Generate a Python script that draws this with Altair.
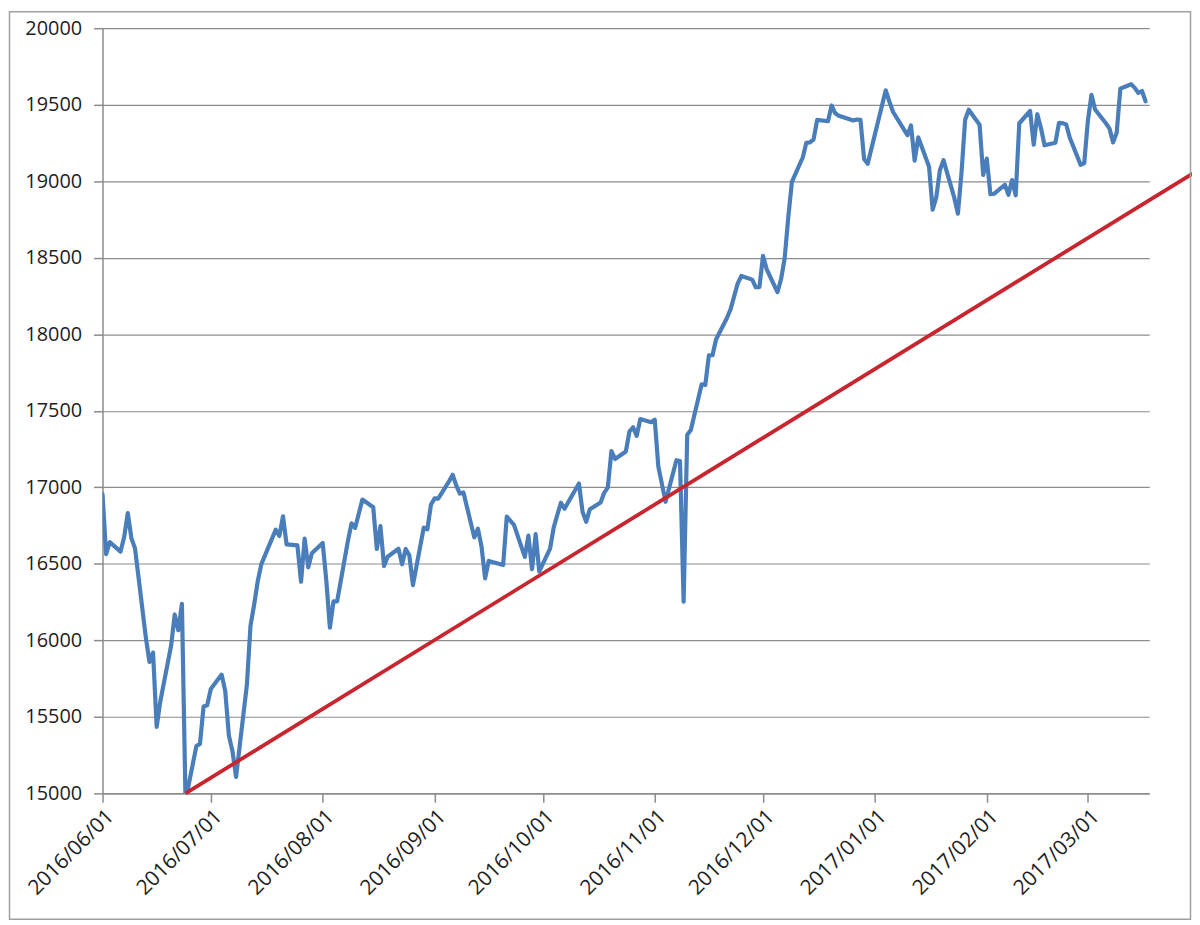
import altair as alt
import pandas as pd

# ---- Nikkei-style daily closes ----
dates = [
    "2016-06-01", "2016-06-02", "2016-06-03", "2016-06-06", "2016-06-07", "2016-06-08", "2016-06-09", "2016-06-10",
    "2016-06-13", "2016-06-14", "2016-06-15", "2016-06-16", "2016-06-17", "2016-06-20", "2016-06-21", "2016-06-22",
    "2016-06-23", "2016-06-24", "2016-06-27", "2016-06-28", "2016-06-29", "2016-06-30",
    "2016-07-01", "2016-07-04", "2016-07-05", "2016-07-06", "2016-07-07", "2016-07-08", "2016-07-11", "2016-07-12",
    "2016-07-13", "2016-07-14", "2016-07-15", "2016-07-19", "2016-07-20", "2016-07-21", "2016-07-22", "2016-07-25",
    "2016-07-26", "2016-07-27", "2016-07-28", "2016-07-29",
    "2016-08-01", "2016-08-02", "2016-08-03", "2016-08-04", "2016-08-05", "2016-08-08", "2016-08-09", "2016-08-10",
    "2016-08-12", "2016-08-15", "2016-08-16", "2016-08-17", "2016-08-18", "2016-08-19", "2016-08-22", "2016-08-23",
    "2016-08-24", "2016-08-25", "2016-08-26", "2016-08-29", "2016-08-30", "2016-08-31",
    "2016-09-01", "2016-09-02", "2016-09-05", "2016-09-06", "2016-09-07", "2016-09-08", "2016-09-09", "2016-09-12",
    "2016-09-13", "2016-09-14", "2016-09-15", "2016-09-16", "2016-09-20", "2016-09-21", "2016-09-23", "2016-09-26",
    "2016-09-27", "2016-09-28", "2016-09-29", "2016-09-30",
    "2016-10-03", "2016-10-04", "2016-10-05", "2016-10-06", "2016-10-07", "2016-10-11", "2016-10-12", "2016-10-13",
    "2016-10-14", "2016-10-17", "2016-10-18", "2016-10-19", "2016-10-20", "2016-10-21", "2016-10-24", "2016-10-25",
    "2016-10-26", "2016-10-27", "2016-10-28", "2016-10-31",
    "2016-11-01", "2016-11-02", "2016-11-04", "2016-11-07", "2016-11-08", "2016-11-09", "2016-11-10", "2016-11-11",
    "2016-11-14", "2016-11-15", "2016-11-16", "2016-11-17", "2016-11-18", "2016-11-21", "2016-11-22", "2016-11-24",
    "2016-11-25", "2016-11-28", "2016-11-29", "2016-11-30",
    "2016-12-01", "2016-12-02", "2016-12-05", "2016-12-06", "2016-12-07", "2016-12-08", "2016-12-09", "2016-12-12",
    "2016-12-13", "2016-12-14", "2016-12-15", "2016-12-16", "2016-12-19", "2016-12-20", "2016-12-21", "2016-12-22",
    "2016-12-26", "2016-12-27", "2016-12-28", "2016-12-29", "2016-12-30",
    "2017-01-04", "2017-01-05", "2017-01-06", "2017-01-10", "2017-01-11", "2017-01-12", "2017-01-13", "2017-01-16",
    "2017-01-17", "2017-01-18", "2017-01-19", "2017-01-20", "2017-01-23", "2017-01-24", "2017-01-25", "2017-01-26",
    "2017-01-27", "2017-01-30", "2017-01-31",
    "2017-02-01", "2017-02-02", "2017-02-03", "2017-02-06", "2017-02-07", "2017-02-08", "2017-02-09", "2017-02-10",
    "2017-02-13", "2017-02-14", "2017-02-15", "2017-02-16", "2017-02-17", "2017-02-20", "2017-02-21", "2017-02-22",
    "2017-02-23", "2017-02-24", "2017-02-27", "2017-02-28",
    "2017-03-01", "2017-03-02", "2017-03-03", "2017-03-06", "2017-03-07", "2017-03-08", "2017-03-09", "2017-03-10",
    "2017-03-13", "2017-03-14", "2017-03-15", "2017-03-16", "2017-03-17",
]
values = [
    16956, 16563, 16642, 16580, 16675, 16831, 16668, 16601,
    16019, 15859, 15920, 15434, 15600, 15965, 16169, 16066,
    16238, 14952, 15309, 15323, 15567, 15576,
    15682, 15776, 15669, 15379, 15276, 15107, 15709, 16096,
    16231, 16386, 16498, 16723, 16682, 16810, 16627, 16620,
    16383, 16665, 16477, 16569,
    16636, 16391, 16083, 16255, 16254, 16651, 16765, 16735,
    16920, 16870, 16597, 16746, 16486, 16546, 16598, 16497,
    16597, 16556, 16361, 16737, 16725, 16887,
    16927, 16926, 17038, 17082, 17012, 16959, 16966, 16673,
    16729, 16614, 16405, 16519, 16492, 16808, 16754, 16545,
    16684, 16465, 16694, 16450,
    16599, 16736, 16819, 16899, 16860, 17025, 16840, 16774,
    16856, 16900, 16964, 16999, 17236, 17185, 17234, 17365,
    17392, 17336, 17446, 17425,
    17442, 17135, 16905, 17177, 17171, 16252, 17344, 17375,
    17673, 17668, 17862, 17863, 17967, 18106, 18163, 18333,
    18381, 18357, 18307, 18308,
    18513, 18426, 18275, 18361, 18497, 18765, 18996, 19155,
    19251, 19254, 19274, 19401, 19392, 19495, 19444, 19428,
    19397, 19403, 19402, 19145, 19114,
    19594, 19521, 19454, 19301, 19365, 19135, 19287, 19095,
    18814, 18894, 19072, 19138, 18891, 18788, 19058, 19402,
    19467, 19369, 19041,
    19148, 18915, 18918, 18977, 18911, 19008, 18908, 19379,
    19459, 19239, 19438, 19348, 19235, 19251, 19381, 19380,
    19371, 19284, 19107, 19119,
    19394, 19565, 19469, 19379, 19344, 19254, 19319, 19605,
    19634, 19610, 19577, 19590, 19522,
]

# ---- support line (red) ----
trend_dates = ["2016-06-24", "2017-03-30"]
trend_values = [15000, 19050]

# ---- axis ticks ----
y_ticks = [15000, 15500, 16000, 16500, 17000, 17500, 18000, 18500, 19000, 19500, 20000]
x_tick_dates = ["2016-06-01", "2016-07-01", "2016-08-01", "2016-09-01", "2016-10-01",
                "2016-11-01", "2016-12-01", "2017-01-01", "2017-02-01", "2017-03-01"]
x_domain = ["2016-06-01", "2017-03-18"]


def dt(s):
    y, m, d = (int(p) for p in s.split("-"))
    return alt.DateTime(year=y, month=m, date=d)


price = pd.DataFrame({"date": [d + "T00:00:00" for d in dates], "value": values})
trend = pd.DataFrame({"date": [d + "T00:00:00" for d in trend_dates], "value": trend_values})

GRAY = "#8c8c8c"
FONT = "Open Sans"

x_enc = alt.X(
    "date:T",
    scale=alt.Scale(domain=[dt(x_domain[0]), dt(x_domain[1])]),
    axis=alt.Axis(
        values=[dt(s) for s in x_tick_dates],
        format="%Y/%m/%d",
        labelAngle=-45,
        labelAlign="right",
        labelBaseline="top",
        labelPadding=3,
        labelFontSize=21,
        tickSize=9,
        grid=False,
        title=None,
        labelOverlap=False,
    ),
)
y_enc = alt.Y(
    "value:Q",
    scale=alt.Scale(domain=[15000, 20000], nice=False, zero=False),
    axis=alt.Axis(
        values=y_ticks,
        format="d",
        tickSize=9,
        labelPadding=12,
        grid=True,
        title=None,
    ),
)

line = alt.Chart(price).mark_line(
    color="#4a7ebb", strokeWidth=4.2, strokeJoin="round", strokeCap="round", clip=True
).encode(x=x_enc, y=y_enc)

support = alt.Chart(trend).mark_line(
    color="#c8262e", strokeWidth=3.8, strokeCap="butt"
).encode(x="date:T", y="value:Q")

frame = alt.Chart(pd.DataFrame({"a": [0]})).mark_rect(
    fill="transparent", stroke="#a0a0a0", strokeWidth=1.5
).encode(
    x=alt.value(-93.5), x2=alt.value(1093.5),
    y=alt.value(-16.5), y2=alt.value(895.5),
)

chart = alt.layer(line, support, frame).properties(
    width=1052,
    height=769,
    autosize=alt.AutoSizeParams(type="none"),
    padding={"left": 95, "top": 18, "right": 43, "bottom": 128},
).configure_view(
    strokeWidth=0
).configure_axis(
    domainColor=GRAY,
    domainWidth=1.5,
    tickColor=GRAY,
    tickWidth=1.5,
    gridColor=GRAY,
    gridWidth=1.2,
    labelFont=FONT,
    labelFontSize=20,
    labelColor="#1e1e1e",
)

chart.save("out.html", embed_options={"renderer": "svg", "actions": False})
